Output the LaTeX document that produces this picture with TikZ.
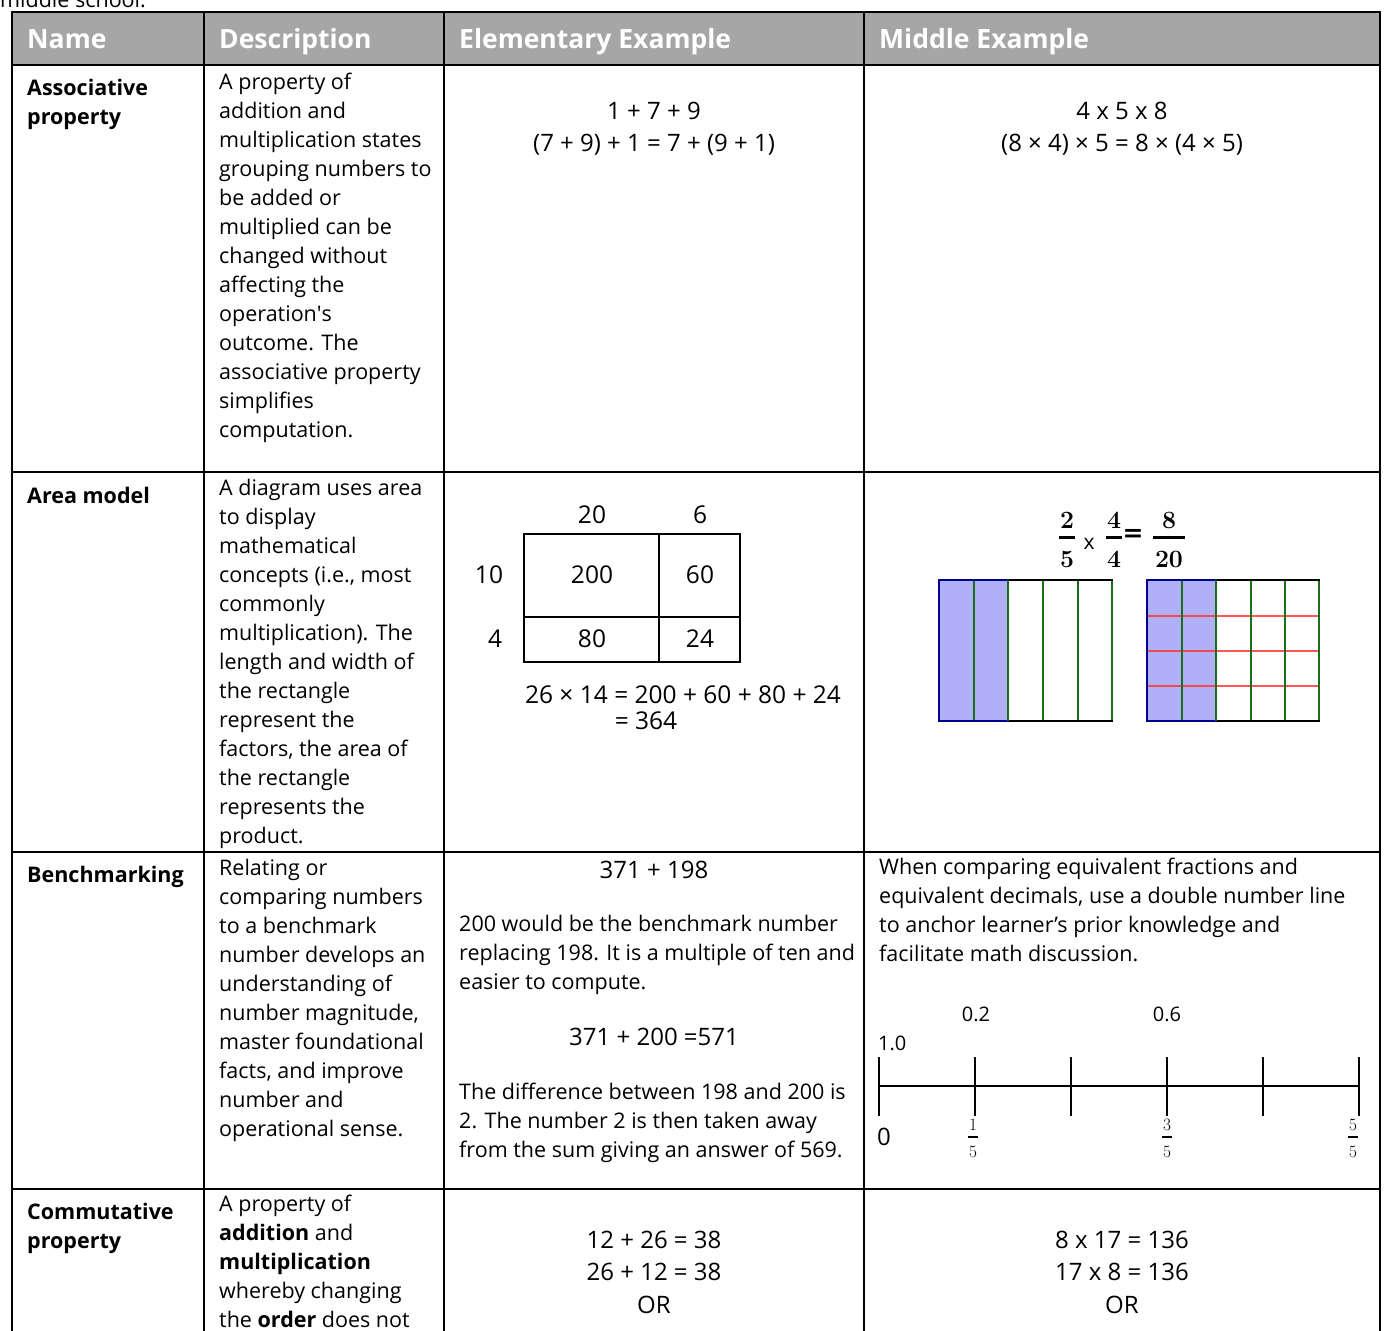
\documentclass[tikz,border=0pt]{standalone}
\usepackage[no-math]{fontspec}
\setmainfont{Open Sans}
\newfontfamily\djv{DejaVu Sans}
\newcommand\bodyf{\fontsize{21.5}{29}\selectfont}
\newcommand\exf{\fontsize{24}{32.5}\selectfont}
\newcommand\amf{\fontsize{24.5}{29}\selectfont}
\newcommand\hdrf{\fontsize{26.5}{30}\selectfont\bfseries}
\newcommand\nlf{\fontsize{20}{24}\selectfont}
\newcommand\cmbx{\fontencoding{OT1}\fontfamily{cmr}\fontseries{bx}\fontshape{n}\selectfont}
\definecolor{hdrgray}{HTML}{A6A6A6}
\definecolor{blueshade}{HTML}{B0B0F8}
\definecolor{dblue}{HTML}{00008C}
\definecolor{dgreen}{HTML}{1A6E1A}
\definecolor{lred}{HTML}{FF3838}
\begin{document}
\begin{tikzpicture}[x=1pt,y=-1pt,
  tx/.style={inner sep=0pt, anchor=base west, font=\bodyf, align=left},
  nm/.style={inner sep=0pt, anchor=base west, font=\bodyf\bfseries, align=left},
  cx/.style={inner sep=0pt, anchor=base, font=\exf, align=center},
  hd/.style={inner sep=0pt, anchor=base west, font=\hdrf, text=white},
  am/.style={inner sep=0pt, anchor=base, font=\amf},
  nl/.style={inner sep=0pt, anchor=base, font=\nlf},
  gridline/.style={line width=2pt, black},
  fr/.style={inner sep=0pt, anchor=base, font=\fontsize{27}{30}\selectfont\cmbx},
  sfr/.style={inner sep=0pt, anchor=base, font=\fontsize{17}{20}\selectfont},
  greenln/.style={dgreen, line width=1.6pt},
  blueedge/.style={dblue, line width=2.2pt},
  blackedge/.style={black, line width=2pt}]
\useasboundingbox (0,0) rectangle (1385,1331);
\clip (0,0) rectangle (1385,1331);
\fill[white] (0,0) rectangle (1385,1331);
% caption fragment
\node[tx] (cap) at (0,7) {middle school.};
% header
\fill[hdrgray] (12,12) rectangle (1380,65);
\node[hd] (h1) at (27,48) {Name};
\node[hd] (h2) at (219,48) {Description};
\node[hd] (h3) at (459,48) {Elementary Example};
\node[hd] (h4) at (879,48) {Middle Example};
% grid
\draw[gridline] (12,12) -- (1380,12);
\draw[gridline] (12,65) -- (1380,65);
\draw[gridline] (12,472) -- (1380,472);
\draw[gridline] (12,852) -- (1380,852);
\draw[gridline] (12,1189) -- (1380,1189);
\foreach \xx in {12,204,444,864,1380} \draw[gridline] (\xx,11) -- (\xx,1340);
% row 1 (multi-line nodes are placed at the baseline of their last line)
\node[nm] (n1) at (27,124) {Associative\\property};
\node[tx] (d1) at (219,437) {A property of\\addition and\\multiplication states\\grouping numbers to\\be added or\\multiplied can be\\changed without\\affecting the\\operation\textquotesingle s\\outcome. The\\associative property\\simplifies\\computation.};
\node[cx] (e1) at (654,151.5) {1 + 7 + 9\\(7 + 9) + 1 = 7 + (9 + 1)};
\node[cx] (m1) at (1122,151.5) {4 x 5 x 8\\(8 × 4) × 5 = 8 × (4 × 5)};
% row 2
\node[nm] (n2) at (27,503) {Area model};
\node[tx] (d2) at (219,843) {A diagram uses area\\to display\\mathematical\\concepts (i.e., most\\commonly\\multiplication). The\\length and width of\\the rectangle\\represent the\\factors, the area of\\the rectangle\\represents the\\product.};
% elementary area model
\draw[line width=1.3pt] (524,534) rectangle (740,662);
\draw[line width=1.3pt] (659,534) -- (659,662);
\draw[line width=1.3pt] (524,617) -- (740,617);
\node[am] (a20) at (592,523) {20};
\node[am] (a6) at (700,523) {6};
\node[am] (a10) at (489,583) {10};
\node[am] (a200) at (592,583) {200};
\node[am] (a60) at (700,583) {60};
\node[am] (a4) at (495,647) {4};
\node[am] (a80) at (592,647) {80};
\node[am] (a24) at (700,647) {24};
\node[am] (aeq) at (683,703) {26 × 14 = 200 + 60 + 80 + 24};
\node[am] (ares) at (646,729) {= 364};
% middle area model: equation
\node[fr] (f1n) at (1067,528) {2};
\node[fr] (f1d) at (1067,567) {5};
\draw[line width=3pt] (1059,537) -- (1075,537);
\node[inner sep=0pt, anchor=base, font=\fontsize{21}{24}\selectfont] (fx) at (1089,549) {x};
\node[fr] (f2n) at (1114,528) {4};
\node[fr] (f2d) at (1114,567) {4};
\draw[line width=3pt] (1106,537) -- (1122,537);
\node[inner sep=0pt, anchor=center, font=\fontsize{25}{28}\selectfont\djv\bfseries] (feq) at (1133,535) {=};
\node[fr] (f3n) at (1169,528) {8};
\node[fr] (f3d) at (1169,567) {20};
\draw[line width=3pt] (1153,537) -- (1185,537);
% left rectangle
\fill[blueshade] (939,580) rectangle (1008,721);
\foreach \xx in {974,1043,1078,1112} \draw[greenln] (\xx,580) -- (\xx,721);
\draw[blackedge] (1008,580) -- (1113,580);
\draw[blackedge] (1008,721) -- (1113,721);
\draw[blueedge] (1008,580) -- (939,580) -- (939,721) -- (1008,721);
\draw[greenln] (1008,580) -- (1008,721);
% right rectangle
\fill[blueshade] (1147,580) rectangle (1216,721);
\foreach \yy in {616,651,686} \draw[lred, opacity=0.85, line width=2pt] (1147,\yy) -- (1319,\yy);
\foreach \xx in {1182,1251,1285} \draw[greenln] (\xx,580) -- (\xx,721);
\draw[dgreen, line width=1.2pt] (1319,580) -- (1319,721);
\draw[blackedge] (1216,580) -- (1320,580);
\draw[blackedge] (1216,721) -- (1320,721);
\draw[blueedge] (1216,580) -- (1147,580) -- (1147,721) -- (1216,721);
\draw[greenln] (1216,580) -- (1216,721);
% row 3
\node[nm] (n3) at (27,882) {Benchmarking};
\node[tx] (d3) at (219,1136) {Relating or\\comparing numbers\\to a benchmark\\number develops an\\understanding of\\number magnitude,\\master foundational\\facts, and improve\\number and\\operational sense.};
\node[cx] (e3a) at (654,878) {371 + 198};
\node[tx] (e3b) at (459,989) {200 would be the benchmark number\\replacing 198. It is a multiple of ten and\\easier to compute.};
\node[cx] (e3c) at (654,1045) {371 + 200 =571};
\node[tx] (e3d) at (459,1157) {The difference between 198 and 200 is\\2. The number 2 is then taken away\\from the sum giving an answer of 569.};
\node[tx] (m3) at (879,961) {When comparing equivalent fractions and\\equivalent decimals, use a double number line\\to anchor learner’s prior knowledge and\\facilitate math discussion.};
% number line
\coordinate (t0) at (879,1086);
\coordinate (t5) at (1359,1086);
\draw[line width=2.5pt] (t0) -- (t5);
\foreach \xx/\nn in {879/0,975/1,1071/2,1167/3,1263/4,1359/5}
  \draw[line width=2.5pt] (\xx,1057) coordinate (tk\nn) -- (\xx,1116);
\node[nl] (l02) at (976,1021) {0.2};
\node[nl] (l06) at (1167,1021) {0.6};
\node[inner sep=0pt, anchor=base west, font=\nlf] (l10) at (878,1050) {1.0};
\node[inner sep=0pt, anchor=base west, font=\fontsize{24}{26}\selectfont] (l0) at (877,1145) {0};
\foreach \xx/\nn/\lab in {973/a/1,1167/b/3,1353/c/5}{
  \node[sfr] (fn\nn) at (\xx,1130) {$\lab$};
  \node[sfr] (fd\nn) at (\xx,1157) {$5$};
  \draw[line width=1.3pt] (\xx-5,1137) -- (\xx+5,1137);
}
% row 4
\node[nm] (n4) at (27,1248) {Commutative\\property};
\node[tx] (d4) at (219,1327) {A property of\\\textbf{addition} and\\\textbf{multiplication}\\whereby changing\\the \textbf{order} does not};
\node[cx] (e4) at (654,1313) {12 + 26 = 38\\26 + 12 = 38\\OR};
\node[cx] (m4) at (1122,1313) {8 x 17 = 136\\17 x 8 = 136\\OR};
\end{tikzpicture}
\end{document}
